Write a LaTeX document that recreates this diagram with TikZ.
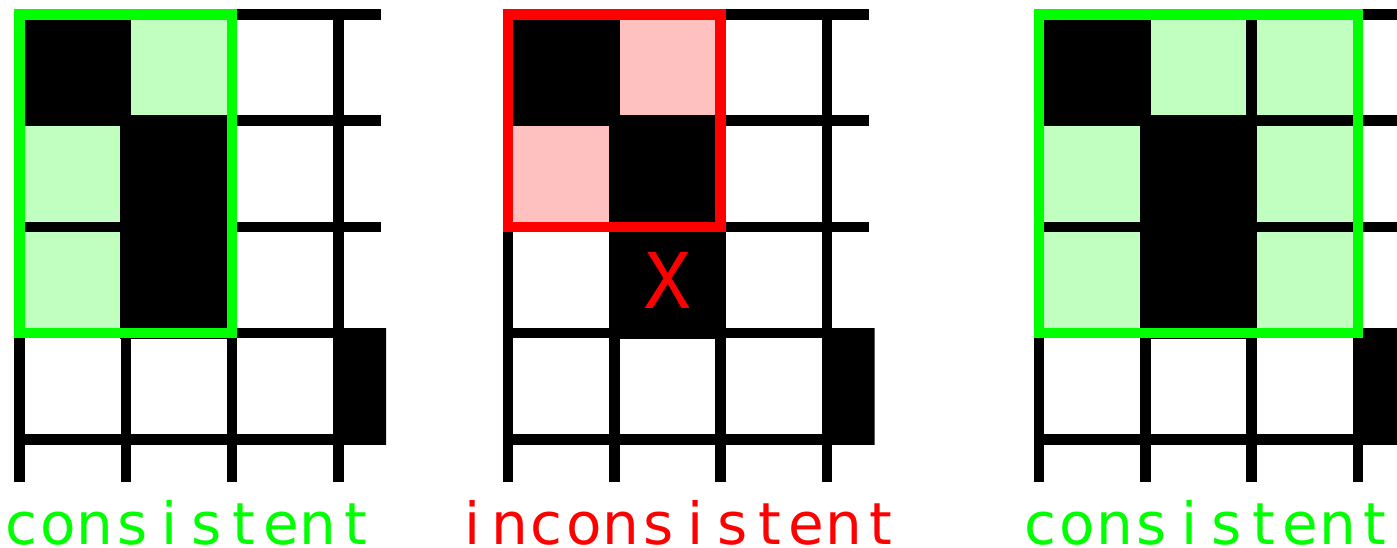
\documentclass[tikz,border=0pt]{standalone}
\usepackage{fontspec}
\newfontfamily\labelfont{DejaVu Sans}
\newfontfamily\markfont{DejaVu Sans Mono}
\usetikzlibrary{positioning}
\definecolor{okgreen}{RGB}{0,255,0}
\definecolor{oklight}{RGB}{192,255,192}
\definecolor{badred}{RGB}{255,0,0}
\definecolor{badlight}{RGB}{255,192,192}

% fixed-width letters for the labels
\newcommand{\monoword}[1]{\monostep#1\relax}
\def\monostep#1{\ifx#1\relax\else\makebox[37.15pt][c]{#1}\expandafter\monostep\fi}

% grid lines of one panel, in cell units
\newcommand{\cellgrid}{%
  \foreach \r in {0,...,4} \draw[gridline] (-0.05,\r) -- (3.4,\r);
  \foreach \c in {0,...,3} \draw[gridline] (\c,-0.05) -- (\c,4.4);
}

\begin{document}
\begin{tikzpicture}[
    x=1pt, y=-1pt,
    cellunit/.style={x=106.3pt, y=-106.3pt},
    gridline/.style={line width=10.5pt, black},
    okframe/.style={draw=okgreen, line width=10.5pt},
    badframe/.style={draw=badred, line width=10.5pt},
    oklabel/.style={anchor=base, inner sep=0pt, text=okgreen, font=\labelfont\fontsize{58}{58}\selectfont},
    badlabel/.style={anchor=base, inner sep=0pt, text=badred, font=\labelfont\fontsize{58}{58}\selectfont}
]
\useasboundingbox[fill=white] (0,0) rectangle (1397,548);

% left panel
\begin{scope}[shift={(19.5,14.3)}, cellunit]
  \begin{scope}
    \clip (-0.1,-0.1) rectangle (3.45,4.45);
    \foreach \c/\r in {1/0, 0/1, 0/2}
      \fill[oklight] (\c+0.05,\r+0.05) rectangle (\c+0.95,\r+0.95);
    \cellgrid
    \foreach \c/\r in {0/0, 1/1, 1/2, 3/3}
      \fill[black] (\c-0.05,\r-0.05) rectangle (\c+1.05,\r+1.05);
    \draw[okframe] (0,0) rectangle (2,3);
  \end{scope}
  \node[oklabel] (lblA) at (1.587,4.99) {\monoword{consistent}};
\end{scope}

% middle panel
\begin{scope}[shift={(508,14.3)}, cellunit]
  \begin{scope}
    \clip (-0.1,-0.1) rectangle (3.45,4.45);
    \foreach \c/\r in {1/0, 0/1}
      \fill[badlight] (\c+0.05,\r+0.05) rectangle (\c+0.95,\r+0.95);
    \cellgrid
    \foreach \c/\r in {0/0, 1/1, 1/2, 3/3}
      \fill[black] (\c-0.05,\r-0.05) rectangle (\c+1.05,\r+1.05);
    \draw[badframe] (0,0) rectangle (2,2);
  \end{scope}
  \node[text=badred, font=\markfont\fontsize{77}{77}\selectfont, inner sep=0pt] (mark) at (1.5,2.5) {X};
  \node[badlabel] (lblB) at (1.587,4.99) {\monoword{inconsistent}};
\end{scope}

% right panel
\begin{scope}[shift={(1039,14.3)}, cellunit]
  \begin{scope}
    \clip (-0.1,-0.1) rectangle (3.45,4.45);
    \foreach \c/\r in {1/0, 2/0, 0/1, 2/1, 0/2, 2/2}
      \fill[oklight] (\c+0.05,\r+0.05) rectangle (\c+0.95,\r+0.95);
    \cellgrid
    \foreach \c/\r in {0/0, 1/1, 1/2, 3/3}
      \fill[black] (\c-0.05,\r-0.05) rectangle (\c+1.05,\r+1.05);
    \draw[okframe] (0,0) rectangle (3,3);
  \end{scope}
  \node[oklabel] (lblC) at (1.587,4.99) {\monoword{consistent}};
\end{scope}
\end{tikzpicture}
\end{document}
